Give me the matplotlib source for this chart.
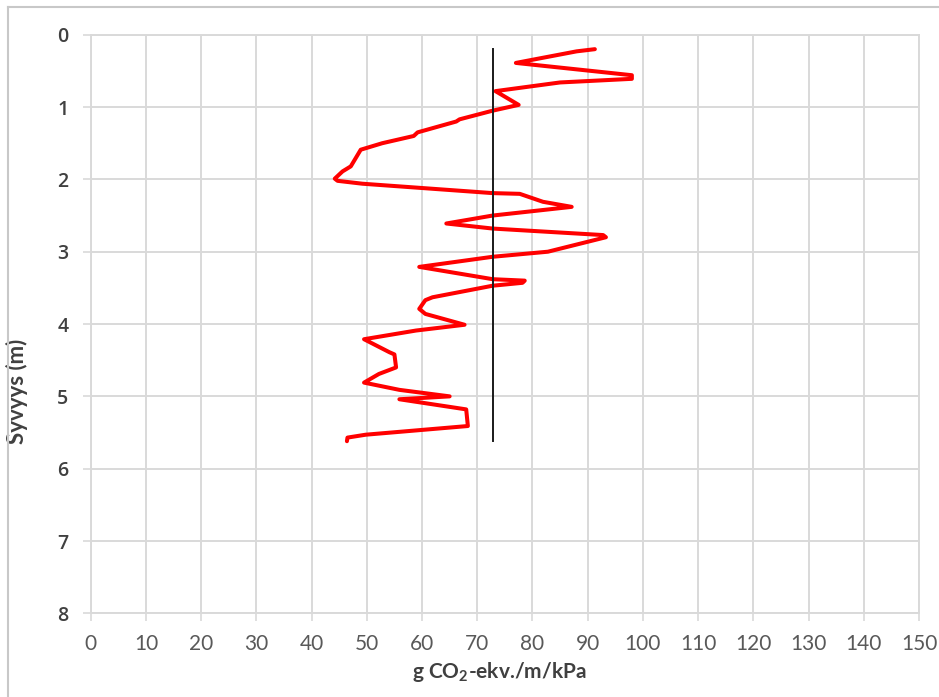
import matplotlib
matplotlib.use("Agg")
import matplotlib.pyplot as plt
from matplotlib.lines import Line2D

# Päästöt syvyyden mukaan (luettu kuvasta)
paastot = [91.3, 88.0, 77.0, 98.0, 98.0, 85.0, 73.3, 77.5, 72.8, 66.8, 66.2,
           59.2, 58.5, 52.8, 48.9, 47.1, 45.6, 44.2, 44.7, 49.2, 72.8, 77.7,
           81.9, 87.1, 72.8, 64.4, 72.8, 92.8, 93.3, 82.8, 72.8, 59.5, 72.8,
           78.6, 78.2, 72.8, 61.9, 60.6, 59.5, 60.6, 67.7, 58.9, 49.5, 54.1,
           55.0, 55.3, 52.2, 49.5, 55.9, 65.0, 55.9, 68.0, 68.3, 49.8, 46.5,
           46.4]
syvyys = [0.20, 0.23, 0.39, 0.56, 0.61, 0.66, 0.78, 0.97, 1.05, 1.17, 1.20,
          1.35, 1.40, 1.50, 1.59, 1.82, 1.89, 1.99, 2.02, 2.06, 2.19, 2.20,
          2.31, 2.38, 2.50, 2.61, 2.68, 2.77, 2.80, 3.00, 3.07, 3.21, 3.38,
          3.40, 3.43, 3.47, 3.63, 3.67, 3.79, 3.86, 4.01, 4.09, 4.21, 4.39,
          4.42, 4.60, 4.69, 4.81, 4.91, 5.00, 5.04, 5.18, 5.41, 5.53, 5.57,
          5.62]

# Keskiarvoviiva
keskiarvo = 72.8
keskiarvo_syvyys = [0.2, 5.62]

x_ticks = list(range(0, 151, 10))
y_ticks = list(range(0, 9))

plt.rcParams['mathtext.fontset'] = 'custom'
plt.rcParams['mathtext.rm'] = 'Lato'
plt.rcParams['mathtext.bf'] = 'Lato:bold'

fig = plt.figure(figsize=(9.39, 6.97), dpi=100)
ax = fig.add_axes([0.0966, 0.120, 0.8821, 0.8302])

harmaa = '#d9d9d9'
ax.plot(paastot, syvyys, color='#ff0000', lw=2.9, solid_joinstyle='round',
        solid_capstyle='round', zorder=3)
ax.plot([keskiarvo, keskiarvo], keskiarvo_syvyys, color='#1a1a1a', lw=1.4, zorder=4)

ax.set_xlim(0, 150)
ax.set_ylim(8, 0)
ax.set_xticks(x_ticks)
ax.set_yticks(y_ticks)
ax.grid(True, color=harmaa, lw=1.4)
ax.set_axisbelow(True)
for s in ax.spines.values():
    s.set_color(harmaa)
    s.set_linewidth(1.4)

ax.tick_params(axis='both', direction='out', length=6, width=1.2, color=harmaa)
ax.tick_params(axis='x', pad=9, labelsize=15, labelcolor='#595959')
ax.tick_params(axis='y', pad=10, labelsize=14, labelcolor='#404040')
for t in ax.get_xticklabels():
    t.set_family('Lato')
for t in ax.get_yticklabels():
    t.set_family('Open Sans')
    t.set_fontweight('semibold')

ax.set_xlabel(r'g CO$_\mathbf{2}$-ekv./m/kPa', family='Lato', fontsize=15,
              fontweight='bold', color='#404040')
ax.xaxis.set_label_coords(0.493, -0.08)
ax.set_ylabel('Syvyys (m)', family='Lato', fontsize=16, fontweight='bold',
              color='#404040')
ax.yaxis.set_label_coords(-0.076, 0.384)

# Kaavioalueen reunus
fig.add_artist(Line2D([8 / 939, 8 / 939], [0, 1 - 7 / 697], color='#c8c8c8', lw=1.5))
fig.add_artist(Line2D([8 / 939, 1], [1 - 7 / 697, 1 - 7 / 697], color='#c8c8c8', lw=1.5))

fig.savefig('out.png', dpi=100)
